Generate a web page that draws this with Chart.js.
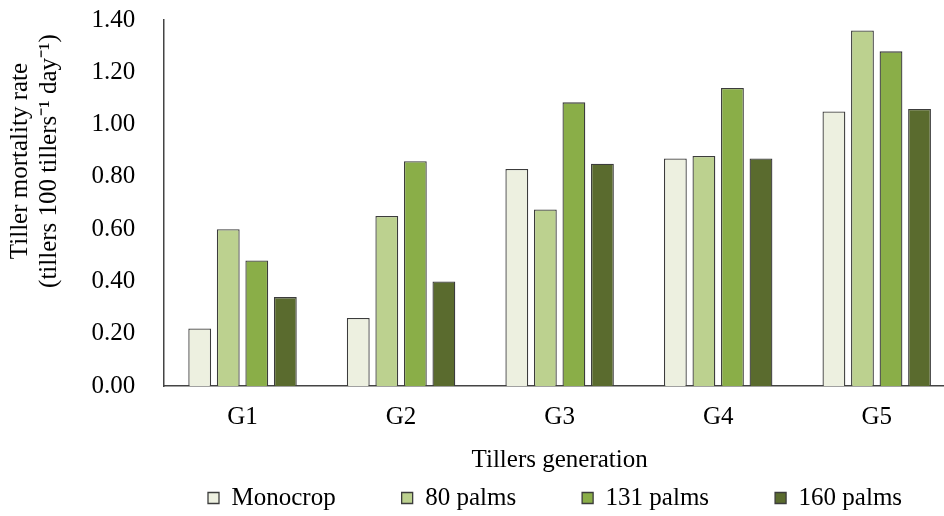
<!DOCTYPE html>
<html>
<head>
<meta charset="utf-8">
<script src="https://cdn.jsdelivr.net/npm/chart.js@4"></script>
<style>
  html, body { margin: 0; padding: 0; background: #fff; }
  #wrap { width: 944px; height: 516px; }
</style>
</head>
<body>
<div id="wrap"><canvas id="myChart"></canvas></div>
<script>
// data
const generations = ["G1", "G2", "G3", "G4", "G5"]
const monocrop = [0.22, 0.26, 0.83, 0.87, 1.05]
const palms80 = [0.60, 0.65, 0.675, 0.88, 1.36]
const palms131 = [0.48, 0.86, 1.085, 1.14, 1.28]
const palms160 = [0.34, 0.40, 0.85, 0.87, 1.06]
const seriesNames = ["Monocrop", "80 palms", "131 palms", "160 palms"]

const colors = ["#edf0e0", "#bcd18f", "#8aae48", "#5a6b2e"]
const serif = "'Liberation Serif', 'Times New Roman', serif"
const legendPad = 66
const overRight = 12 // plot runs a bit past the right edge like the original

window.addEventListener("load", () => {
  const values = [monocrop, palms80, palms131, palms160]
  const datasets = values.map((v, i) => ({
    label: seriesNames[i],
    data: v,
    backgroundColor: colors[i],
    borderColor: "#3c3c3c",
    borderWidth: 1.3,
    categoryPercentage: 0.72,
    barPercentage: 0.8
  }))

  new Chart(document.getElementById("myChart"), {
    type: "bar",
    data: { labels: generations, datasets },
    options: {
      responsive: true,
      maintainAspectRatio: false,
      animation: false,
      layout: { padding: { left: 0, right: 0, top: 20, bottom: 0 } },
      plugins: {
        legend: {
          position: "bottom",
          align: "start",
          labels: {
            color: "#000",
            font: { family: serif, size: 25 },
            boxWidth: 11,
            boxHeight: 11,
            padding: legendPad
          }
        },
        tooltip: { enabled: false }
      },
      scales: {
        x: {
          grid: { display: false, drawTicks: false },
          border: { color: "#444", width: 1.5 },
          ticks: { color: "#000", font: { family: serif, size: 25 }, padding: 16 },
          title: {
            display: true,
            text: "Tillers generation",
            color: "#000",
            font: { family: serif, size: 25, lineHeight: 1 },
            padding: { top: 0, bottom: 5 }
          }
        },
        y: {
          min: 0,
          max: 1.4,
          afterFit: s => { s.paddingTop = 15 },
          grid: { display: false, drawTicks: false },
          border: { color: "#444", width: 1.5 },
          ticks: {
            stepSize: 0.2,
            color: "#000",
            font: { family: serif, size: 25 },
            padding: 28,
            callback: v => v.toFixed(2)
          },
          title: {
            display: true,
            text: ["Tiller mortality rate", "(tillers 100 tillers\u207B\u00B9 day\u207B\u00B9)"],
            color: "#000",
            font: { family: serif, size: 25, lineHeight: 1.15 },
            padding: { top: 6, bottom: 0 }
          }
        }
      }
    },
    plugins: [{
      // legend: keep it short in the layout, spread the items wide
      afterInit: chart => {
        const fit = chart.legend.fit
        chart.legend.fit = function () {
          fit.call(this)
          this.height = 38
        }
      },
      afterLayout: chart => {
        const lg = chart.legend
        lg.top -= legendPad - 7.5
        const dx = 208 - legendPad - lg.left
        lg.left += dx
        lg.right += dx

        // stretch the x range past the canvas edge
        const x = chart.scales.x
        x.right += overRight
        x.width += overRight
        chart.chartArea.right += overRight
        chart.chartArea.width += overRight
        x.configure()

        // y title sits higher than the middle of the axis in the original
        const y = chart.scales.y
        if (!y._titleMoved) {
          const drawTitle = y.drawTitle
          y.drawTitle = function () {
            const b = this.bottom
            this.bottom -= 84
            drawTitle.call(this)
            this.bottom = b
          }
          y._titleMoved = true
        }
      }
    }]
  })
})
</script>
</body>
</html>
